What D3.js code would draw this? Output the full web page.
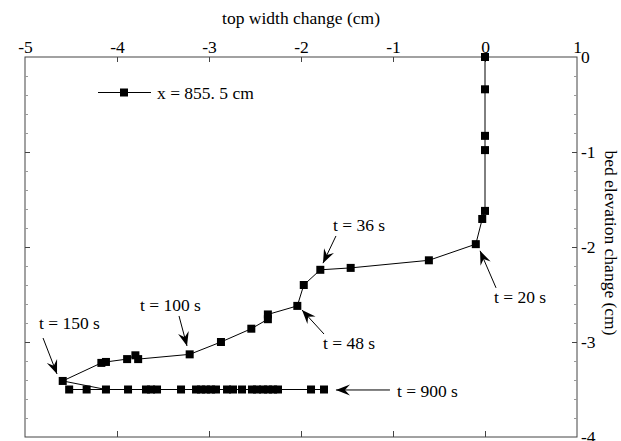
<!DOCTYPE html>
<html>
<head>
<meta charset="utf-8">
<script src="https://cdn.jsdelivr.net/npm/d3@7"></script>
<style>
  body { margin: 0; background: #fff; }
  svg text { font-family: "Liberation Serif", "DejaVu Serif", serif !important; }
</style>
</head>
<body>
<div id="chart"></div>
<script>
// top width change (cm) and bed elevation change (cm), x = 855.5 cm
const widthChange = [0, 0, 0, 0, 0, -0.03, -0.1, -0.61, -1.46, -1.79, -1.97, -2.04,
  -2.36, -2.36, -2.54, -2.87, -3.21, -3.77, -3.8, -3.89, -4.12, -4.17, -4.59,
  -4.12, -4.33, -4.52, -3.88, -3.685, -3.63, -3.565, -3.304, -3.141, -3.087, -3.033,
  -2.978, -2.924, -2.804, -2.739, -2.641, -2.533, -2.478, -2.413, -2.359, -2.304,
  -2.25, -1.891, -1.75]
const bedChange = [0, -0.34, -0.83, -0.98, -1.62, -1.705, -1.97, -2.14, -2.22, -2.24, -2.4, -2.62,
  -2.71, -2.76, -2.86, -3.0, -3.13, -3.18, -3.14, -3.18, -3.21, -3.22, -3.41,
  -3.5, -3.5, -3.5, -3.5, -3.5, -3.5, -3.5, -3.5, -3.5, -3.5, -3.5,
  -3.5, -3.5, -3.5, -3.5, -3.5, -3.5, -3.5, -3.5, -3.5, -3.5,
  -3.5, -3.5, -3.5]

const xTicks = [-5, -4, -3, -2, -1, 0, 1]
const yTicks = [0, -1, -2, -3, -4]
const legendLabel = 'x = 855. 5 cm'

// time labels: label centre, arrow tail, arrow tip (data units)
const annLabels = ['t = 20 s', 't = 36 s', 't = 48 s', 't = 100 s', 't = 150 s', 't = 900 s']
const annText = [[0.098, -2.526], [-1.652, -1.768], [-1.761, -3.011], [-3.75, -2.611], [-4.848, -2.8], [-0.957, -3.516]]
const annTail = [[0.12, -2.43], [-1.62, -1.884], [-1.75, -2.916], [-3.326, -2.726], [-4.804, -2.958], [-1.033, -3.505]]
const annTip = [[-0.054, -2.04], [-1.761, -2.17], [-1.989, -2.663], [-3.239, -3.042], [-4.652, -3.337], [-1.62, -3.505]]

const W = 621, H = 441
const plot = {left: 25, right: 577, top: 57, bottom: 437}
const fs = 17.5
const serif = '"Liberation Serif", "DejaVu Serif", serif'

const svg = d3.select('#chart').append('svg')
  .attr('width', W)
  .attr('height', H)
  .attr('font-family', serif)

const x = d3.scaleLinear().domain([-5, 1]).range([plot.left, plot.right])
const y = d3.scaleLinear().domain([0, -4]).range([plot.top, plot.bottom])

const axisColor = '#444'
const fmt = d => String(d)

// frame
svg.append('rect')
  .attr('x', plot.left).attr('y', plot.top)
  .attr('width', plot.right - plot.left).attr('height', plot.bottom - plot.top)
  .attr('fill', 'none').attr('stroke', axisColor).attr('stroke-width', 1)

function styleAxis(g) {
  g.attr('font-family', serif)
  g.select('.domain').remove()
  g.selectAll('.tick line').attr('stroke', axisColor)
  g.selectAll('.tick text')
    .attr('fill', '#000')
    .attr('font-size', fs)
}

// top axis with labels
svg.append('g')
  .attr('transform', `translate(0,${plot.top})`)
  .call(d3.axisTop(x).tickValues(xTicks).tickSize(-5).tickPadding(4).tickFormat(fmt))
  .call(styleAxis)
  .call(g => g.selectAll('.tick').filter(d => d === -5 || d === 1).select('line').remove())

// bottom axis ticks only
svg.append('g')
  .attr('transform', `translate(0,${plot.bottom})`)
  .call(d3.axisBottom(x).tickValues(xTicks.slice(1, -1)).tickSize(-6).tickFormat(''))
  .call(styleAxis)

// right axis with labels
const minor = d3.range(-0.2, -4, -0.2).filter(v => Math.abs(v - Math.round(v)) > 0.01)
svg.append('g')
  .attr('transform', `translate(${plot.right},0)`)
  .call(d3.axisRight(y).tickValues(yTicks).tickSize(-5).tickPadding(4).tickFormat(fmt))
  .call(styleAxis)
  .call(g => g.selectAll('.tick').filter(d => d === 0 || d === -4).select('line').remove())
  .call(g => g.selectAll('.tick text').attr('text-anchor', 'start'))

svg.append('g')
  .attr('transform', `translate(${plot.right},0)`)
  .call(d3.axisRight(y).tickValues(minor).tickSize(-3).tickFormat(''))
  .call(styleAxis)
  .call(g => g.selectAll('.tick line').attr('stroke', '#999'))

// left axis ticks only
svg.append('g')
  .attr('transform', `translate(${plot.left},0)`)
  .call(d3.axisLeft(y).tickValues(yTicks.slice(1, -1)).tickSize(-5).tickFormat(''))
  .call(styleAxis)

svg.append('g')
  .attr('transform', `translate(${plot.left},0)`)
  .call(d3.axisLeft(y).tickValues(minor).tickSize(-3).tickFormat(''))
  .call(styleAxis)
  .call(g => g.selectAll('.tick line').attr('stroke', '#999'))

// axis titles
svg.append('text')
  .attr('x', (plot.left + plot.right) / 2)
  .attr('y', 24)
  .attr('text-anchor', 'middle')
  .attr('font-size', fs)
  .text('top width change (cm)')

svg.append('text')
  .attr('transform', `translate(${W - 16},${(plot.top + plot.bottom) / 2 - 4}) rotate(90)`)
  .attr('text-anchor', 'middle')
  .attr('font-size', fs)
  .text('bed elevation change (cm)')

// data line and markers
const pts = widthChange.map((d, i) => [d, bedChange[i]])
const line = d3.line().x(d => x(d[0])).y(d => y(d[1]))

svg.append('path')
  .datum(pts)
  .attr('d', line)
  .attr('fill', 'none')
  .attr('stroke', '#000')
  .attr('stroke-width', 1)

const ms = 8
svg.append('g').selectAll('rect')
  .data(pts)
  .join('rect')
  .attr('x', d => x(d[0]) - ms / 2)
  .attr('y', d => y(d[1]) - ms / 2)
  .attr('width', ms)
  .attr('height', ms)
  .attr('fill', '#000')

// legend
const lgY = 92.5
svg.append('line')
  .attr('x1', 98).attr('x2', 151)
  .attr('y1', lgY).attr('y2', lgY)
  .attr('stroke', '#000').attr('stroke-width', 1)
svg.append('rect')
  .attr('x', 124 - ms / 2).attr('y', lgY - ms / 2)
  .attr('width', ms).attr('height', ms)
  .attr('fill', '#000')
svg.append('text')
  .attr('x', 157).attr('y', lgY)
  .attr('dominant-baseline', 'central')
  .attr('font-size', fs)
  .text(legendLabel)

// arrowhead
svg.append('defs').append('marker')
  .attr('id', 'head')
  .attr('viewBox', '-14 -6 15 12')
  .attr('refX', 0).attr('refY', 0)
  .attr('markerWidth', 15).attr('markerHeight', 12)
  .attr('markerUnits', 'userSpaceOnUse')
  .attr('orient', 'auto')
  .append('path')
  .attr('d', 'M0,0 L-14,-5.5 L-9,0 L-14,5.5 Z')
  .attr('fill', '#000')

// annotations
const ann = svg.append('g')
annLabels.forEach((label, i) => {
  ann.append('line')
    .attr('x1', x(annTail[i][0])).attr('y1', y(annTail[i][1]))
    .attr('x2', x(annTip[i][0])).attr('y2', y(annTip[i][1]))
    .attr('stroke', '#000').attr('stroke-width', 1)
    .attr('marker-end', 'url(#head)')
  ann.append('text')
    .attr('x', x(annText[i][0]))
    .attr('y', y(annText[i][1]))
    .attr('dominant-baseline', 'central')
    .attr('font-size', fs)
    .text(label)
})
</script>
</body>
</html>
